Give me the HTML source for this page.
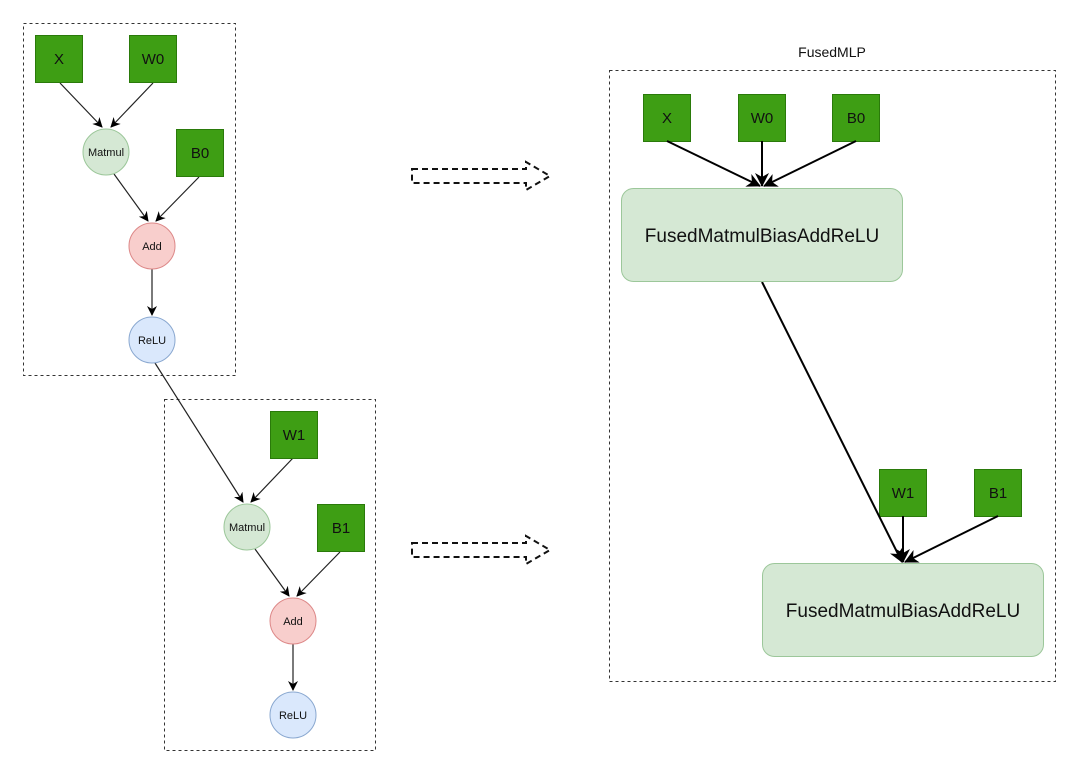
<!DOCTYPE html>
<html><head><meta charset="utf-8"><style>html,body{margin:0;padding:0;background:#fff}svg{display:block}</style></head>
<body>
<svg width="1080" height="775" viewBox="0 0 1080 775" xmlns="http://www.w3.org/2000/svg" font-family="Liberation Sans, Arial, sans-serif">
<defs>
<marker id="a" markerWidth="10" markerHeight="10" refX="9" refY="5" orient="auto" markerUnits="userSpaceOnUse"><path d="M0,0 L10,5 L0,10 L3,5 z" fill="#000"/></marker>
<marker id="b" markerWidth="14" markerHeight="14" refX="13" refY="7" orient="auto" markerUnits="userSpaceOnUse"><path d="M0,0 L14,7 L0,14 L4,7 z" fill="#000"/></marker>
</defs>
<g fill="none" stroke="#333" stroke-dasharray="3,3" stroke-width="1">
<rect x="23.5" y="23.5" width="212" height="352"/>
<rect x="164.5" y="399.5" width="211" height="351"/>
<rect x="609.5" y="70.5" width="446" height="611"/>
</g>
<!-- left graph 1 -->
<g stroke="#222" stroke-width="1.2" fill="none">
<line x1="60" y1="83" x2="102" y2="127" marker-end="url(#a)"/>
<line x1="153" y1="83" x2="111" y2="127" marker-end="url(#a)"/>
<line x1="114" y1="174" x2="148" y2="221" marker-end="url(#a)"/>
<line x1="199" y1="177" x2="156" y2="221" marker-end="url(#a)"/>
<line x1="152" y1="269" x2="152" y2="315" marker-end="url(#a)"/>
<line x1="155" y1="363" x2="243" y2="502" marker-end="url(#a)"/>
<line x1="293" y1="458" x2="251" y2="502" marker-end="url(#a)"/>
<line x1="255" y1="549" x2="289" y2="596" marker-end="url(#a)"/>
<line x1="340" y1="552" x2="297" y2="596" marker-end="url(#a)"/>
<line x1="293" y1="644" x2="293" y2="690" marker-end="url(#a)"/>
</g>
<g stroke="#2a7a0a" stroke-width="1" fill="#3e9e14">
<rect x="35.5" y="35.5" width="47" height="47"/>
<rect x="129.5" y="35.5" width="47" height="47"/>
<rect x="176.5" y="129.5" width="47" height="47"/>
<rect x="270.5" y="411.5" width="47" height="47"/>
<rect x="317.5" y="504.5" width="47" height="47"/>
<rect x="643.5" y="94.5" width="47" height="47"/>
<rect x="738.5" y="94.5" width="47" height="47"/>
<rect x="832.5" y="94.5" width="47" height="47"/>
<rect x="879.5" y="469.5" width="47" height="47"/>
<rect x="974.5" y="469.5" width="47" height="47"/>
</g>
<g font-size="15" fill="#111" text-anchor="middle">
<text x="59" y="64">X</text><text x="153" y="64">W0</text><text x="200" y="158">B0</text>
<text x="294" y="440">W1</text><text x="341" y="533">B1</text>
<text x="667" y="123">X</text><text x="762" y="123">W0</text><text x="856" y="123">B0</text>
<text x="903" y="498">W1</text><text x="998" y="498">B1</text>
</g>
<g stroke-width="1">
<circle cx="106" cy="152" r="23" fill="#d5e8d4" stroke="#9cc79a"/>
<circle cx="152" cy="246" r="23" fill="#f8cecc" stroke="#d88"/>
<circle cx="152" cy="340" r="23" fill="#dae8fc" stroke="#8aa8d0"/>
<circle cx="247" cy="527" r="23" fill="#d5e8d4" stroke="#9cc79a"/>
<circle cx="293" cy="621" r="23" fill="#f8cecc" stroke="#d88"/>
<circle cx="293" cy="715" r="23" fill="#dae8fc" stroke="#8aa8d0"/>
</g>
<g font-size="11" fill="#111" text-anchor="middle">
<text x="106" y="156">Matmul</text><text x="152" y="250">Add</text><text x="152" y="344">ReLU</text>
<text x="247" y="531">Matmul</text><text x="293" y="625">Add</text><text x="293" y="719">ReLU</text>
</g>
<!-- dashed arrows -->
<g fill="none" stroke="#111" stroke-width="2" stroke-dasharray="6,4">
<path d="M412,169 L526,169 L526,162 L550,176 L526,190 L526,183 L412,183 Z"/>
<path d="M412,543 L526,543 L526,536 L550,550 L526,564 L526,557 L412,557 Z"/>
</g>
<!-- right -->
<text x="832" y="57" font-size="14" text-anchor="middle" fill="#111">FusedMLP</text>
<g stroke="#000" stroke-width="2" fill="none">
<line x1="667" y1="141" x2="760" y2="186" marker-end="url(#b)"/>
<line x1="762" y1="141" x2="762" y2="186" marker-end="url(#b)"/>
<line x1="856" y1="141" x2="764" y2="186" marker-end="url(#b)"/>
<line x1="762" y1="282" x2="902" y2="562" marker-end="url(#b)"/>
<line x1="903" y1="516" x2="903" y2="562" marker-end="url(#b)"/>
<line x1="998" y1="516" x2="905" y2="562" marker-end="url(#b)"/>
</g>
<rect x="621.5" y="188.5" width="281" height="93" rx="12" fill="#d5e8d4" stroke="#9cc79a"/>
<rect x="762.5" y="563.5" width="281" height="93" rx="12" fill="#d5e8d4" stroke="#9cc79a"/>
<g font-size="19" fill="#111" text-anchor="middle">
<text x="762" y="242">FusedMatmulBiasAddReLU</text>
<text x="903" y="617">FusedMatmulBiasAddReLU</text>
</g>
</svg>
</body></html>
